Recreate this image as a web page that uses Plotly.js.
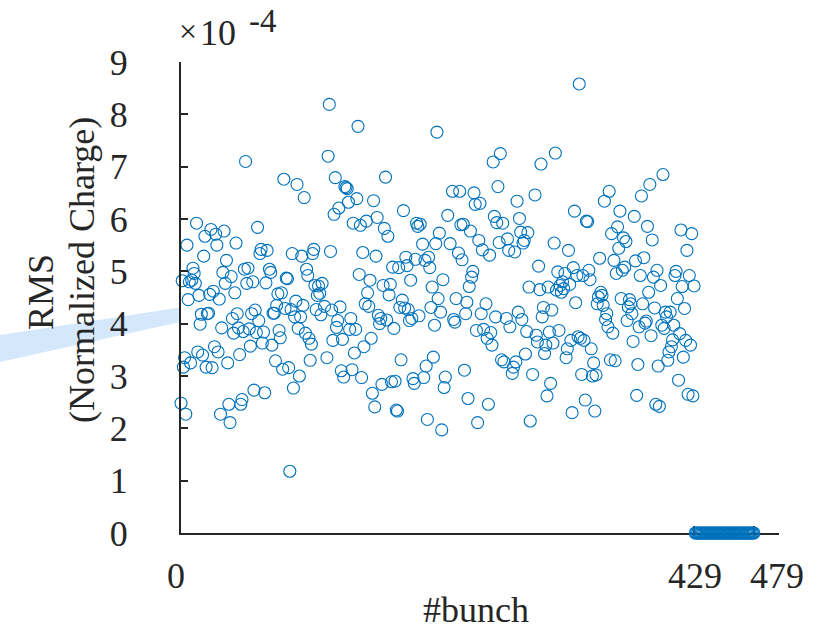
<!DOCTYPE html>
<html>
<head>
<meta charset="utf-8">
<script src="https://cdn.plot.ly/plotly-3.0.1.min.js"></script>
<style>
  html, body { margin: 0; padding: 0; background: #ffffff; }
  #chart { width: 818px; height: 631px; }
</style>
</head>
<body>
<div id="chart"></div>
<script>
// Filled bunches: bunch index and RMS of the normalized charge (units of 1e-4)
const bunch = [
  0,1,2,3,4,5,6,7,8,9,10,11,12,13,14,15,16,17,18,19,
  20,21,22,23,24,25,26,27,28,29,30,31,32,33,34,35,36,37,38,39,
  40,41,42,43,44,45,46,47,48,49,50,51,52,53,54,55,56,57,58,59,
  60,61,62,63,64,65,66,67,68,69,70,71,72,74,75,76,77,78,79,
  80,81,82,83,84,85,86,87,88,89,90,91,92,93,94,95,96,97,98,99,
  100,101,102,103,104,105,106,107,108,109,110,111,112,113,114,115,116,117,118,120,
  122,123,124,125,126,127,128,129,130,131,132,133,134,135,136,137,138,139,140,141,
  142,143,144,145,146,147,148,149,150,151,152,153,154,155,156,157,158,159,160,161,
  162,163,164,165,166,167,168,169,170,171,172,173,174,175,176,177,178,179,180,181,
  182,183,184,185,186,187,188,189,190,191,192,193,194,195,196,197,198,199,200,202,
  203,204,205,206,207,208,209,210,211,212,213,214,215,216,217,218,219,220,221,223,
  225,227,228,229,230,232,233,234,235,236,237,238,239,240,241,242,243,244,245,246,
  247,248,249,250,251,252,253,255,256,257,258,259,260,261,262,263,264,265,266,267,
  268,269,270,272,273,274,275,277,278,279,280,281,282,283,284,285,286,287,288,289,
  290,291,292,294,296,297,298,299,300,301,302,303,304,305,306,307,308,309,310,311,
  312,313,314,315,316,317,318,319,320,321,322,323,324,325,326,327,328,329,330,331,
  332,333,334,335,336,337,338,339,340,341,342,343,344,345,346,347,348,349,350,351,
  352,353,354,355,356,357,358,359,360,361,362,363,364,365,366,367,368,369,370,371,
  372,373,374,375,376,377,378,379,380,381,382,383,384,385,386,387,388,389,390,391,
  392,393,394,395,396,397,398,399,400,401,402,403,404,405,406,407,408,409,410,411,
  412,413,414,415,416,417,418,419,420,421,422,423,424,425,426,427,428,429
];
const rms = [
  2.48,4.82,3.17,3.35,2.27,5.50,4.46,4.80,3.25,4.83,5.06,4.96,4.77,5.92,3.46,4.54,3.99,4.18,3.40,5.29,
  5.67,3.17,4.19,4.20,4.56,5.80,3.16,4.62,3.56,5.71,5.50,3.46,4.47,2.27,3.92,4.98,5.77,4.77,5.21,3.25,
  2.46,2.11,4.90,4.10,3.82,4.59,5.54,4.19,3.92,3.41,2.46,2.55,3.85,5.04,7.10,4.77,5.06,3.90,3.57,4.19,
  4.80,2.73,4.26,3.83,5.84,4.06,5.34,5.42,3.63,3.84,2.68,4.78,5.40,5.04,4.98,3.59,4.20,4.20,3.29,
  4.35,4.57,3.87,3.73,4.59,3.13,6.76,4.29,4.87,4.86,3.16,1.18,4.27,5.34,2.77,4.13,4.43,6.66,3.91,3.00,
  4.13,5.29,4.35,6.41,3.82,5.04,4.92,3.72,3.30,3.61,5.34,5.42,4.73,4.27,4.54,4.72,4.58,4.17,4.77,4.33,
  3.35,7.20,8.19,5.38,4.26,3.68,6.09,6.79,3.93,4.06,6.21,4.32,3.10,3.70,2.98,6.62,6.60,6.58,6.32,3.89,
  4.10,3.12,5.92,3.44,3.89,6.39,7.77,4.94,5.88,2.97,5.36,3.56,4.38,5.96,4.59,4.33,4.83,3.72,2.67,6.35,
  2.41,5.29,6.03,4.16,4.00,4.10,2.84,4.73,5.82,6.80,4.07,5.67,4.55,4.75,2.89,5.08,3.91,2.90,2.35,2.33,
  5.07,4.31,3.31,4.45,6.16,4.30,5.27,5.11,4.27,4.06,4.83,4.10,2.95,2.86,5.23,5.92,5.86,4.15,5.90,5.52,
  2.97,5.21,3.19,2.17,5.27,5.07,4.31,4.70,3.36,3.97,5.53,7.66,4.48,5.73,4.22,1.97,4.84,2.78,2.98,6.07,
  5.53,6.53,4.08,4.03,4.48,5.35,6.53,5.89,5.22,5.90,3.11,4.19,4.41,2.57,4.71,5.77,4.89,5.00,6.50,6.28,
  3.87,2.11,5.59,6.30,4.19,5.41,3.89,4.38,3.72,2.46,5.31,3.83,3.59,7.09,6.05,4.13,5.93,6.62,5.55,7.25,
  3.31,5.92,3.27,4.10,5.62,5.40,3.94,3.05,3.17,5.37,3.27,6.34,4.22,6.01,5.75,4.08,5.54,5.59,3.42,3.85,
  5.74,4.70,2.14,3.03,6.46,3.78,3.65,5.10,4.65,7.05,4.13,4.31,3.43,3.59,2.62,4.70,3.84,2.86,4.26,3.63,
  5.54,7.26,4.64,4.99,3.87,4.73,4.60,4.80,4.67,4.96,3.35,3.52,5.40,4.75,3.68,2.30,5.07,6.15,4.40,4.92,
  3.75,8.58,3.72,3.03,4.92,3.68,2.54,5.96,5.95,5.02,4.84,3.52,3.00,3.25,2.33,3.02,4.38,4.51,5.25,4.60,
  4.54,4.35,6.34,4.08,4.19,3.94,6.53,3.31,5.72,3.82,5.21,3.29,4.96,5.85,5.44,6.15,4.48,5.02,5.64,5.08,
  5.57,4.06,4.32,4.46,4.38,4.19,3.66,6.05,5.20,2.63,3.22,3.94,4.92,6.44,4.38,5.26,4.01,4.05,5.86,4.60,
  6.66,3.77,5.60,4.89,4.30,2.46,5.02,3.19,2.42,4.73,3.97,6.85,3.91,4.22,4.13,3.30,3.46,4.22,3.56,3.69,
  3.97,4.92,5.00,4.48,2.92,3.81,5.79,4.71,3.36,4.29,3.68,5.40,2.65,4.92,3.59,5.72,2.62,4.72
];

// Empty bunches at the end of the train: RMS is zero
const emptyBunch = [
  430,431,432,433,434,435,436,437,438,439,440,441,442,443,444,445,446,447,448,449,
  450,451,452,453,454,455,456,457,458,459,460,461,462,463,464,465,466,467,468,469,
  470,471,472,473,474,475,476,477,478,479
];
const emptyRms = [
  0,0,0,0,0,0,0,0,0,0,0,0,0,0,0,0,0,0,0,0,
  0,0,0,0,0,0,0,0,0,0,0,0,0,0,0,0,0,0,0,0,
  0,0,0,0,0,0,0,0,0,0
];

// Axis ticks
const xTickVals = [0, 429, 479];
const xTickText = ['0', '429', '479'];
const yTickVals = [0, 1, 2, 3, 4, 5, 6, 7, 8, 9];
const yTickText = ['0', '1', '2', '3', '4', '5', '6', '7', '8', '9'];

const SERIF = 'Liberation Serif, Times New Roman, serif';
const INK = '#262626';
const BLUE = '#0072BD';

const marker = {
  symbol: 'circle-open',
  size: 12,
  color: BLUE,
  line: { width: 1.1, color: BLUE }
};

const traces = [
  { x: bunch, y: rms, type: 'scatter', mode: 'markers', marker: marker,
    cliponaxis: false, hoverinfo: 'x+y', showlegend: false },
  { x: emptyBunch, y: emptyRms, type: 'scatter', mode: 'markers', marker: marker,
    cliponaxis: false, hoverinfo: 'x+y', showlegend: false }
];

// pixel helpers for items placed around the plot frame
const L = 181, R = 779, T = 62, B = 533;
const px = v => (v - L) / (R - L);
const py = v => (B - v) / (B - T);
const txt = (size) => ({ family: SERIF, size: size, color: INK });

// x tick labels sit as text under the axis, each centred where it is printed
const xLabelPx = [176, 695, 777];
const xLabels = xTickText.map((t, i) => ({
  text: t, xref: 'paper', yref: 'paper', x: px(xLabelPx[i]), y: py(576),
  xanchor: 'center', yanchor: 'middle', showarrow: false, font: txt(36)
}));

const layout = {
  width: 818,
  height: 631,
  margin: { l: L, r: 818 - R, t: T, b: 631 - B, pad: 0 },
  paper_bgcolor: '#ffffff',
  plot_bgcolor: '#ffffff',
  showlegend: false,
  font: txt(36),
  xaxis: {
    range: [0, 500],
    showline: true, linecolor: INK, linewidth: 2,
    ticks: 'inside', ticklen: 7, tickwidth: 2, tickcolor: INK,
    tickmode: 'array', tickvals: xTickVals, ticktext: xTickText,
    showticklabels: false, layer: 'below traces',
    showgrid: false, zeroline: false, fixedrange: true
  },
  yaxis: {
    range: [0, 9],
    showline: true, linecolor: INK, linewidth: 2,
    ticks: 'inside', ticklen: 7, tickwidth: 2, tickcolor: INK,
    tickmode: 'array', tickvals: yTickVals, ticktext: yTickText,
    tickfont: txt(36), tickangle: 0,
    ticklabelstandoff: 44,
    showgrid: false, zeroline: false, fixedrange: true
  },
  shapes: [
    // pale blue band running in from the left edge
    { type: 'path', xref: 'paper', yref: 'paper', layer: 'below',
      path: 'M ' + px(0) + ' ' + py(335) + ' L ' + px(180) + ' ' + py(307.5) +
            ' L ' + px(180) + ' ' + py(322) + ' L ' + px(0) + ' ' + py(362) + ' Z',
      fillcolor: '#d5e8fb', line: { width: 0 } }
  ],
  annotations: xLabels.concat([
    { text: 'RMS', xref: 'paper', yref: 'paper', x: px(41), y: py(292),
      xanchor: 'center', yanchor: 'middle', textangle: -90, showarrow: false,
      font: txt(36) },
    { text: '(Normalized Charge)', xref: 'paper', yref: 'paper', x: px(82), y: py(270),
      xanchor: 'center', yanchor: 'middle', textangle: -90, showarrow: false,
      font: txt(36) },
    { text: '#bunch', xref: 'paper', yref: 'paper', x: px(476), y: py(610),
      xanchor: 'center', yanchor: 'middle', showarrow: false,
      font: txt(36) },
    // exponent of the y-axis: x10^-4
    { text: '\u00d7', xref: 'paper', yref: 'paper', x: px(188), y: py(31),
      xanchor: 'center', yanchor: 'middle', showarrow: false,
      font: txt(32) },
    { text: '10', xref: 'paper', yref: 'paper', x: px(198), y: py(33),
      xanchor: 'left', yanchor: 'middle', showarrow: false,
      font: txt(36) },
    { text: '-4', xref: 'paper', yref: 'paper', x: px(247), y: py(21),
      xanchor: 'left', yanchor: 'middle', showarrow: false,
      font: txt(33) }
  ])
};

Plotly.newPlot('chart', traces, layout, { staticPlot: true, displayModeBar: false });
</script>
</body>
</html>
